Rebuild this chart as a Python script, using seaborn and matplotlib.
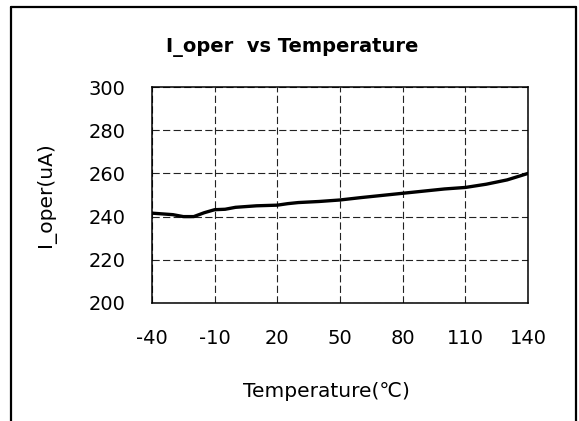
import numpy as np
import pandas as pd
import seaborn as sns
import matplotlib
matplotlib.use("Agg")
import matplotlib.pyplot as plt

# values
temperature = [-40, -30, -25, -20, -15, -10, -5, 0, 10, 20, 25, 30, 40, 50,
               60, 70, 80, 90, 100, 110, 120, 130, 140]
i_oper = [241.6, 240.9, 240.0, 240.0, 241.8, 243.2, 243.4, 244.3, 245.0, 245.3,
          246.0, 246.5, 247.0, 247.7, 248.8, 249.8, 250.8, 251.8, 252.8, 253.5,
          255.0, 257.0, 260.0]
xticks = [-40, -10, 20, 50, 80, 110, 140]
yticks = [200, 220, 240, 260, 280, 300]

df = pd.DataFrame({'Temperature': temperature, 'I_oper': i_oper})

sns.set_theme(style="white")
plt.rcParams['font.family'] = ['DejaVu Sans', 'Noto Sans CJK SC']
plt.rcParams['axes.unicode_minus'] = False
plt.rcParams['text.color'] = 'black'
plt.rcParams['axes.labelcolor'] = 'black'

fig = plt.figure(figsize=(5.79, 4.21), dpi=100)
ax = fig.add_axes([0.2625, 0.2803, 0.6495, 0.513])

sns.lineplot(data=df, x='Temperature', y='I_oper', color='black', linewidth=2.4, ax=ax)

ax.set_xlim(-40, 140)
ax.set_ylim(200, 300)
ax.set_xticks(xticks)
ax.set_yticks(yticks)
ax.tick_params(axis='both', length=0, labelsize=14, colors='black')
ax.tick_params(axis='x', pad=19)
ax.tick_params(axis='y', pad=19)
ax.grid(True, color='#222222', linewidth=0.8, linestyle=(0, (6.5, 3)))

for s in ax.spines.values():
    s.set_color('black')
    s.set_linewidth(1.1)

# title sits left of the axes centre in the reference
fig.text(292.5 / 579, 1 - 51.7 / 421, 'I_oper  vs Temperature', fontsize=14,
         fontweight='bold', ha='center', va='baseline', color='black')
ax.set_xlabel('Temperature(℃)', fontsize=14.5)
ax.set_ylabel('I_oper(uA)', fontsize=14.5)
ax.xaxis.set_label_coords((326.8 - 152) / 376, -0.365)
ax.yaxis.set_label_coords(-0.255, 0.5)

# outer frame (no bottom edge visible in the reference)
frame_kw = dict(color='black', linewidth=1.6, transform=fig.transFigure)
fig.add_artist(plt.Line2D([11 / 579, 11 / 579], [0, 1 - 7 / 421], **frame_kw))
fig.add_artist(plt.Line2D([11 / 579, 576 / 579], [1 - 7 / 421, 1 - 7 / 421], **frame_kw))
fig.add_artist(plt.Line2D([576 / 579, 576 / 579], [0, 1 - 7 / 421], **frame_kw))

fig.savefig('out.png', dpi=100)
